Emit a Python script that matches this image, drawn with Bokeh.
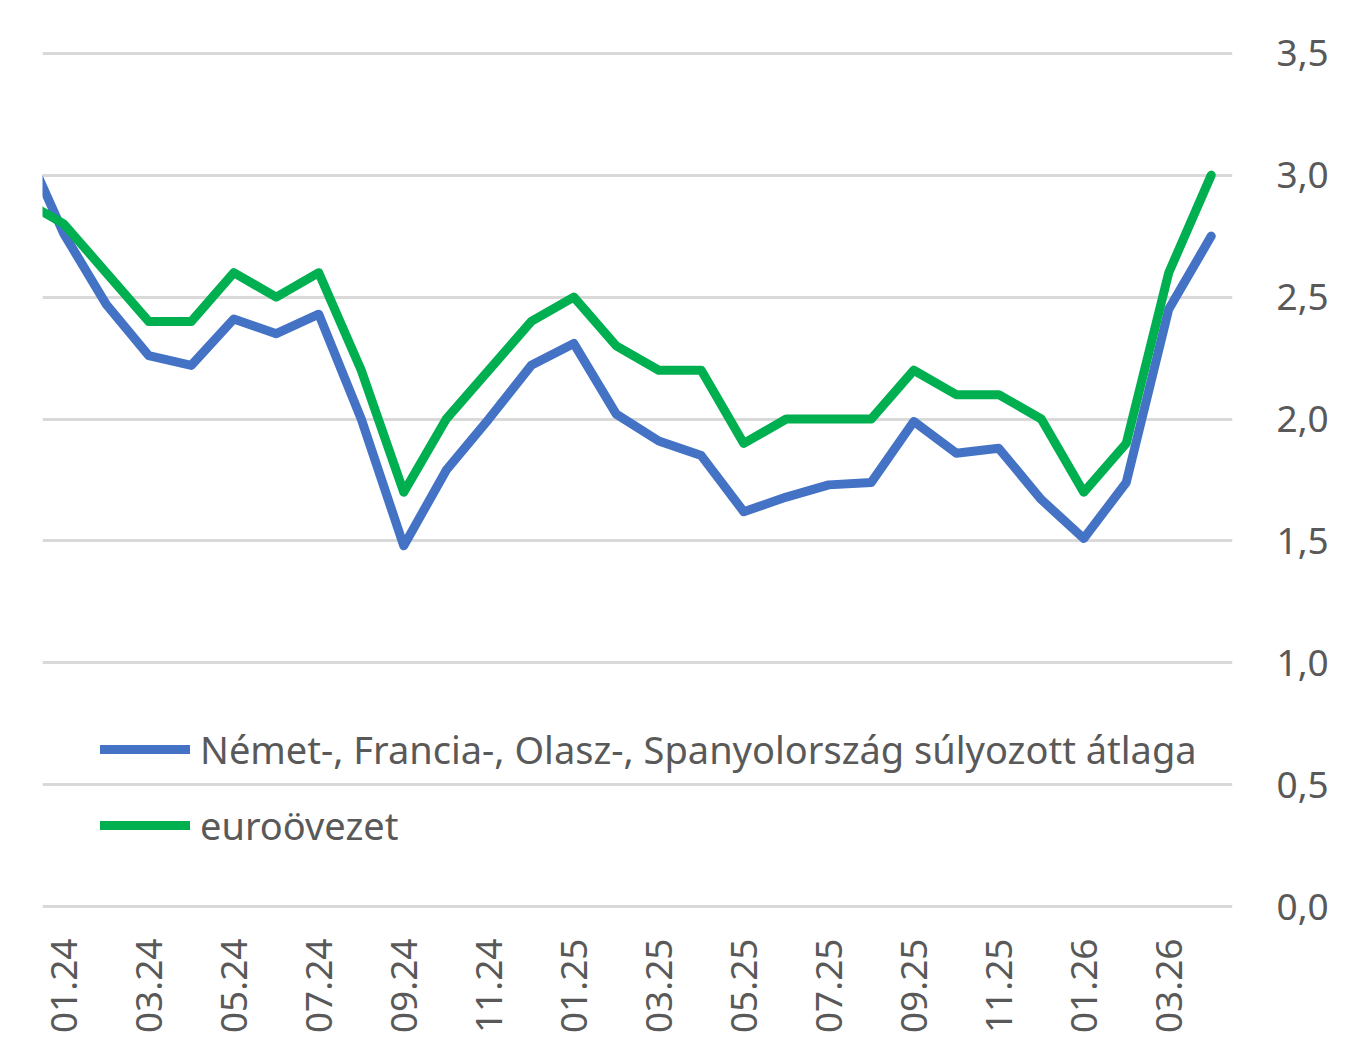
import math
from bokeh.plotting import figure
from bokeh.models import Range1d, FixedTicker, Legend, LegendItem
from bokeh.embed import file_html
from bokeh.resources import INLINE

months = ["12.23", "01.24", "02.24", "03.24", "04.24", "05.24", "06.24", "07.24", "08.24",
          "09.24", "10.24", "11.24", "12.24", "01.25", "02.25", "03.25", "04.25", "05.25",
          "06.25", "07.25", "08.25", "09.25", "10.25", "11.25", "12.25", "01.26", "02.26",
          "03.26", "04.26"]
weighted_avg = [3.15, 2.76, 2.47, 2.26, 2.22, 2.41, 2.35, 2.43, 2.00, 1.48, 1.79, 2.00, 2.22,
                2.31, 2.02, 1.91, 1.85, 1.62, 1.68, 1.73, 1.74, 1.99, 1.86, 1.88, 1.67, 1.51,
                1.74, 2.45, 2.75]
eurozone = [2.9, 2.8, 2.6, 2.4, 2.4, 2.6, 2.5, 2.6, 2.2, 1.7, 2.0, 2.2, 2.4, 2.5, 2.3, 2.2,
            2.2, 1.9, 2.0, 2.0, 2.0, 2.2, 2.1, 2.1, 2.0, 1.7, 1.9, 2.6, 3.0]
y_ticks = [0.0, 0.5, 1.0, 1.5, 2.0, 2.5, 3.0, 3.5]
y_tick_labels = ["0,0", "0,5", "1,0", "1,5", "2,0", "2,5", "3,0", "3,5"]
series_names = ["Német-, Francia-, Olasz-, Spanyolország súlyozott átlaga", "euroövezet"]

xs = list(range(-1, len(months) - 1))  # 12.23 -> -1, 01.24 -> 0

FONT = "Noto Sans"
TXT = "#595959"

p = figure(width=1350, height=1042, output_backend="svg", toolbar_location=None,
           x_range=Range1d(-0.5, 27.5), y_range=Range1d(-0.015, 3.515),
           min_border_left=42, min_border_right=118, min_border_top=49,
           min_border_bottom=132, y_axis_location="right")
p.outline_line_color = None
p.background_fill_color = "white"
p.border_fill_color = "white"

r1 = p.line(xs, weighted_avg, line_color="#4472C4", line_width=9,
            line_cap="round", line_join="round")
r2 = p.line(xs, eurozone, line_color="#00B050", line_width=9,
            line_cap="round", line_join="round")

p.xgrid.grid_line_color = None
p.ygrid.grid_line_color = "#D9D9D9"
p.ygrid.grid_line_width = 3

ya = p.yaxis[0]
ya.ticker = FixedTicker(ticks=y_ticks)
ya.major_label_overrides = {t: l for t, l in zip(y_ticks, y_tick_labels)}
ya.axis_line_color = None
ya.major_tick_line_color = None
ya.minor_tick_line_color = None
ya.major_label_standoff = 38
ya.major_label_text_font = FONT
ya.major_label_text_font_size = "37px"
ya.major_label_text_color = TXT

xa = p.xaxis[0]
x_ticks = [i for i in range(0, 27, 2)]
xa.ticker = FixedTicker(ticks=x_ticks)
xa.major_label_overrides = {i: months[i + 1] for i in x_ticks}
xa.major_label_orientation = math.pi / 2
xa.axis_line_color = None
xa.major_tick_line_color = None
xa.minor_tick_line_color = None
xa.major_label_standoff = 22
xa.major_label_text_font = FONT
xa.major_label_text_font_size = "37px"
xa.major_label_text_color = TXT

legend = Legend(items=[LegendItem(label=series_names[0], renderers=[r1]),
                       LegendItem(label=series_names[1], renderers=[r2])],
                location=(58, 59), orientation="vertical")
legend.background_fill_alpha = 0
legend.border_line_color = None
legend.padding = 0
legend.margin = 0
legend.spacing = 24
legend.glyph_width = 90
legend.glyph_height = 40
legend.label_height = 40
legend.label_standoff = 10
legend.label_text_font = FONT
legend.label_text_font_size = "38px"
legend.label_text_color = TXT
p.add_layout(legend, "center")

open("out.html", "w").write(file_html(p, INLINE))
